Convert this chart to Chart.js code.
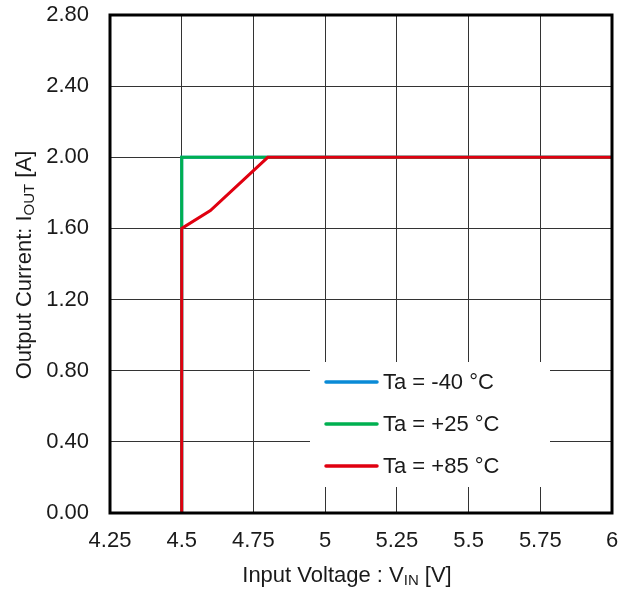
<!DOCTYPE html>
<html>
<head>
<meta charset="utf-8">
<script src="https://cdn.jsdelivr.net/npm/chart.js@4.4.1/dist/chart.umd.min.js"></script>
<style>
    html, body { margin: 0; padding: 0; background: #fff; }
    #wrap { width: 635px; height: 592px; position: relative; }
</style>
</head>
<body>
<div id="wrap"><canvas id="ioutChart"></canvas></div>
<script>
// Input voltage [V] / output current [A] per ambient temperature
const vinM40 = [4.5, 4.5, 6];
const ioutM40 = [0, 2.0, 2.0];
const vin25 = [4.5, 4.5, 4.5, 4.8, 6];
const iout25 = [0, 1.6, 2.0, 2.0, 2.0];
const vin85 = [4.5, 4.5, 4.6, 4.8, 6];
const iout85 = [0, 1.6, 1.7, 2.0, 2.0];

const seriesLabels = ["Ta = -40 °C", "Ta = +25 °C", "Ta = +85 °C"];
const seriesColors = ["#0a8ad6", "#00b050", "#e00010"];

const xMin = 4.25, xMax = 6, xStep = 0.25;
const yMin = 0, yMax = 2.8, yStep = 0.4;

const FONT = "'Liberation Sans', Arial, sans-serif";

function pts(xs, ys) {
    return xs.map((x, i) => ({ x: x, y: ys[i] }));
}

// draws "main" + subscript + "rest" centred at 0,0 of current transform
function drawSubText(ctx, main, sub, rest, size) {
    const subSize = Math.round(size * 0.7);
    ctx.font = size + "px " + FONT;
    const w1 = ctx.measureText(main).width;
    const w3 = ctx.measureText(rest).width;
    ctx.font = subSize + "px " + FONT;
    const w2 = ctx.measureText(sub).width;
    let x = -(w1 + w2 + w3) / 2;
    ctx.textBaseline = "middle";
    ctx.textAlign = "left";
    ctx.font = size + "px " + FONT;
    ctx.fillText(main, x, 0);
    x += w1;
    ctx.font = subSize + "px " + FONT;
    ctx.fillText(sub, x, 5);
    x += w2;
    ctx.font = size + "px " + FONT;
    ctx.fillText(rest, x, 0);
}

const framePlugin = {
    id: "frame",
    afterDatasetsDraw(chart) {
        const ctx = chart.ctx;
        const a = chart.chartArea;

        // legend box
        const bx = 310, by = 362, bw = 240, bh = 125;
        ctx.save();
        ctx.fillStyle = "#fff";
        ctx.fillRect(bx, by, bw, bh);
        chart.data.datasets.forEach((ds, i) => {
            const y = 382 + i * 42;
            ctx.strokeStyle = ds.borderColor;
            ctx.lineWidth = 3.5;
            ctx.lineCap = "round";
            ctx.beginPath();
            ctx.moveTo(326, y);
            ctx.lineTo(377, y);
            ctx.stroke();
            ctx.fillStyle = "#1a1a1a";
            ctx.font = "22px " + FONT;
            ctx.textAlign = "left";
            ctx.textBaseline = "middle";
            ctx.fillText(ds.label, 383, y + 1);
        });

        // plot frame
        ctx.strokeStyle = "#000";
        ctx.lineWidth = 3;
        ctx.lineCap = "butt";
        ctx.strokeRect(a.left, a.top, a.right - a.left, a.bottom - a.top);
        ctx.restore();
    },
    afterDraw(chart) {
        const ctx = chart.ctx;
        ctx.save();
        ctx.fillStyle = "#1a1a1a";
        ctx.translate(347, 576);
        drawSubText(ctx, "Input Voltage : V", "IN", " [V]", 22);
        ctx.restore();

        ctx.save();
        ctx.fillStyle = "#1a1a1a";
        ctx.translate(25, 265);
        ctx.rotate(-Math.PI / 2);
        drawSubText(ctx, "Output Current: I", "OUT", " [A]", 22);
        ctx.restore();
    }
};

new Chart(document.getElementById("ioutChart"), {
    type: "scatter",
    data: {
        datasets: [
            { label: seriesLabels[0], data: pts(vinM40, ioutM40), borderColor: seriesColors[0], backgroundColor: seriesColors[0], order: 3 },
            { label: seriesLabels[1], data: pts(vin25, iout25), borderColor: seriesColors[1], backgroundColor: seriesColors[1], order: 2 },
            { label: seriesLabels[2], data: pts(vin85, iout85), borderColor: seriesColors[2], backgroundColor: seriesColors[2], order: 1 }
        ].map(ds => Object.assign(ds, { showLine: true, borderWidth: 3, pointRadius: 0, tension: 0 }))
    },
    options: {
        responsive: true,
        maintainAspectRatio: false,
        animation: false,
        layout: { padding: { left: 0, top: 15, right: 23, bottom: 0 } },
        plugins: {
            legend: { display: false },
            tooltip: { enabled: false }
        },
        scales: {
            x: {
                type: "linear",
                min: xMin, max: xMax,
                afterFit: s => { s.height = 79; s.paddingLeft = 0; s.paddingRight = 0; },
                grid: { color: "#333", lineWidth: 1, drawTicks: false },
                border: { display: false },
                ticks: {
                    stepSize: xStep,
                    padding: 15,
                    color: "#1a1a1a",
                    font: { family: FONT, size: 22 },
                    callback: v => String(Number(v.toFixed(2)))
                }
            },
            y: {
                type: "linear",
                min: yMin, max: yMax,
                afterFit: s => { s.width = 110; s.paddingTop = 0; s.paddingBottom = 0; },
                grid: { color: "#333", lineWidth: 1, drawTicks: false },
                border: { display: false },
                ticks: {
                    stepSize: yStep,
                    padding: 21,
                    color: "#1a1a1a",
                    font: { family: FONT, size: 22 },
                    callback: v => v.toFixed(2)
                }
            }
        }
    },
    plugins: [framePlugin]
});
</script>
</body>
</html>
